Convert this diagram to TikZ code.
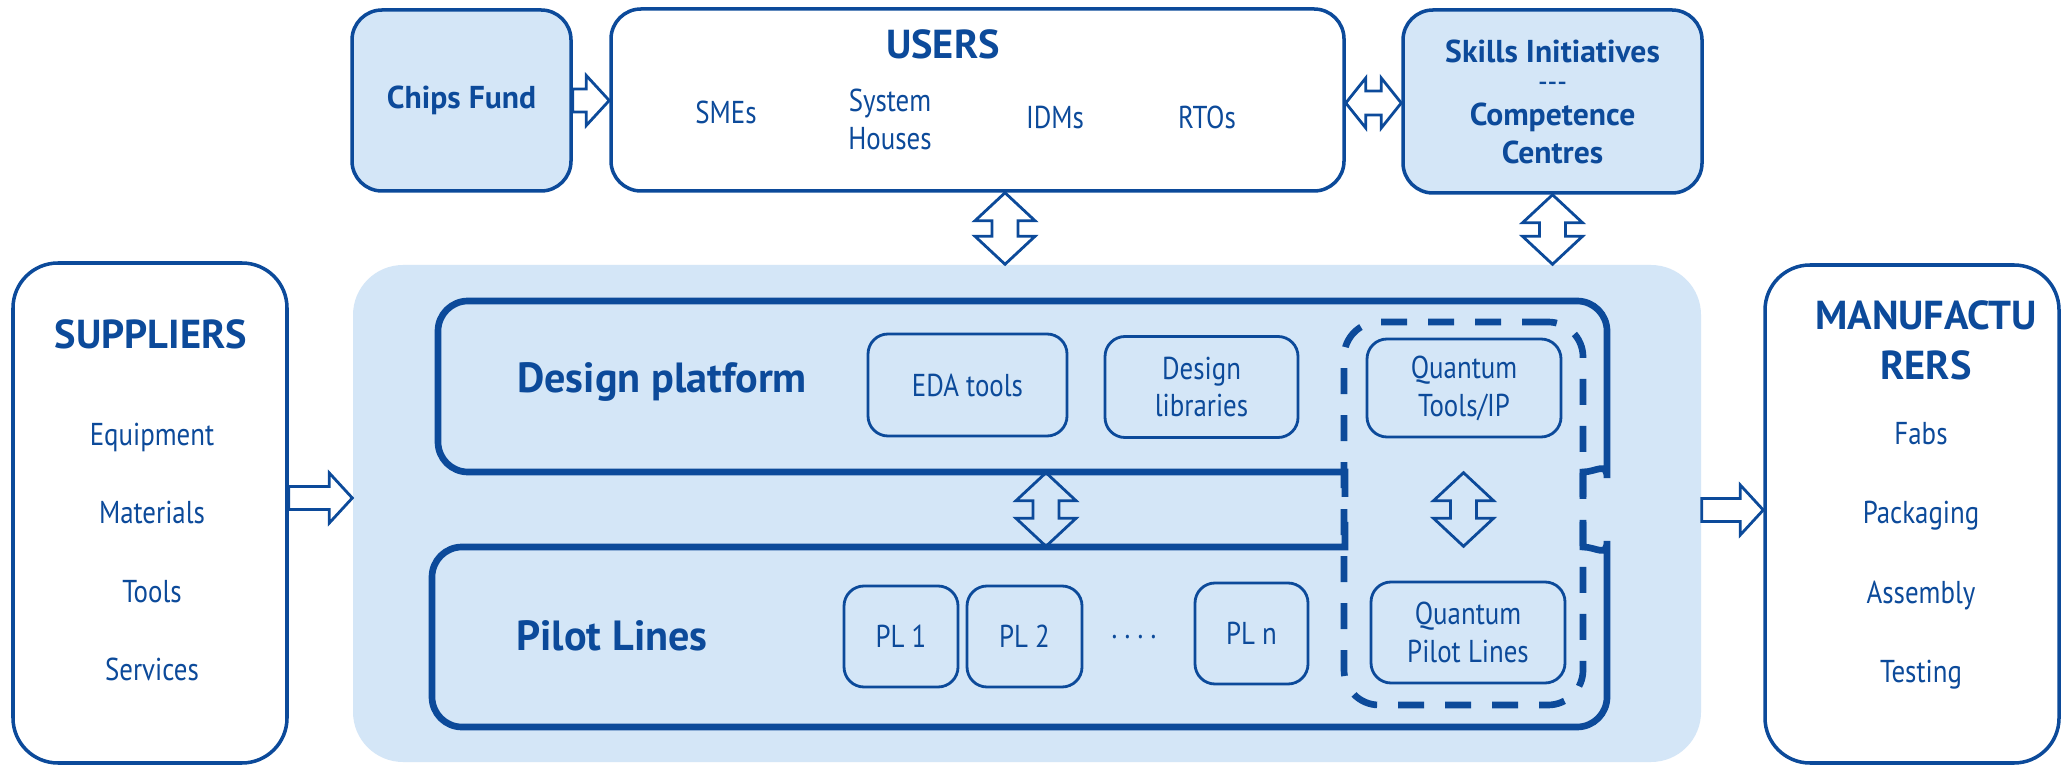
\documentclass[tikz,border=0pt]{standalone}
\usepackage{fontspec}
\setmainfont{PT Sans}[UprightFeatures={FakeStretch=0.85}]
\usetikzlibrary{calc}

\definecolor{eublue}{RGB}{12,74,154}
\definecolor{eulight}{RGB}{212,230,247}

\tikzset{
  box/.style={draw=eublue, line width=1pt, rounded corners=4mm, inner sep=0pt},
  fundbox/.style={box, fill=eulight, rounded corners=3mm, align=center,
    font=\bfseries\fontsize{9}{10.8}\selectfont},
  subbox/.style={draw=eublue, line width=0.8pt, rounded corners=2mm, inner sep=0pt,
    align=center, font=\fontsize{9}{10.8}\selectfont},
  title/.style={align=center, font=\bfseries\fontsize{11.5}{14.2}\selectfont},
  bandname/.style={font=\bfseries\fontsize{12}{14}\selectfont},
  item/.style={align=center, font=\fontsize{9}{10.8}\selectfont},
  frame/.style={draw=eublue, line width=1.9pt},
  qframe/.style={draw=eublue, line width=1.9pt, dash pattern=on 2.6mm off 2.1mm,
    rounded corners=3.5mm, inner sep=0pt},
  blockarrow/.style={draw=eublue, line width=0.8pt}
}

% hollow block arrow, left to right
\newcommand\rarrow[2]{%
  \draw[blockarrow] let \p1=(#1), \p2=(#2) in
    (\x1,\y1+1.15mm) -- (\x2-2.3mm,\y1+1.15mm) -- (\x2-2.3mm,\y1+2.5mm) -- (\x2,\y1)
    -- (\x2-2.3mm,\y1-2.5mm) -- (\x2-2.3mm,\y1-1.15mm) -- (\x1,\y1-1.15mm) -- cycle;}
% hollow double arrow, horizontal
\newcommand\hdarrow[2]{%
  \draw[blockarrow] let \p1=(#1), \p2=(#2) in
    (\x1,\y1) -- (\x1+2mm,\y1+2.5mm) -- (\x1+2mm,\y1+1.2mm) -- (\x2-2mm,\y1+1.2mm)
    -- (\x2-2mm,\y1+2.5mm) -- (\x2,\y1) -- (\x2-2mm,\y1-2.5mm) -- (\x2-2mm,\y1-1.2mm)
    -- (\x1+2mm,\y1-1.2mm) -- (\x1+2mm,\y1-2.5mm) -- cycle;}
% hollow double arrow, vertical (x and top from #1, bottom from #2)
\newcommand\vdarrow[2]{%
  \draw[blockarrow] let \p1=(#1), \p2=(#2) in
    (\x1,\y1) -- (\x1+3mm,\y1-2.8mm) -- (\x1+1.3mm,\y1-2.8mm) -- (\x1+1.3mm,\y2+2.8mm)
    -- (\x1+3mm,\y2+2.8mm) -- (\x1,\y2) -- (\x1-3mm,\y2+2.8mm) -- (\x1-1.3mm,\y2+2.8mm)
    -- (\x1-1.3mm,\y1-2.8mm) -- (\x1-3mm,\y1-2.8mm) -- cycle;}

\begin{document}
\begin{tikzpicture}[x=0.1mm, y=-0.1mm, every node/.append style={text=eublue}]
\fill[white] (0,0) rectangle (2063,765);
\useasboundingbox (0,0) rectangle (2063,765);

% light panel
\node[fill=eulight, rounded corners=5mm, inner sep=0pt, minimum width=134.8mm,
  minimum height=49.7mm] (panel) at (1027,513.5) {};

% top row
\node[fundbox, minimum width=21.9mm, minimum height=18.1mm] (chips) at (461.5,100.5) {Chips Fund};
\node[box, rounded corners=3mm, minimum width=73.3mm, minimum height=18.2mm] (users) at (977.5,100) {};
\node[fundbox, minimum width=29.9mm, minimum height=18.3mm] (skills) at (1552.5,101.5)
  {Skills Initiatives\\[-0.8mm]{\mdseries -{}-{}-}\\[-0.5mm]Competence\\Centres};
\node[title, anchor=base] (usertitle) at (943,59) {USERS};
\foreach \x/\txt/\nm in {726/SMEs/smes, 1055/IDMs/idms, 1207/RTOs/rtos}
  \node[item, anchor=base] (\nm) at (\x,\ifnum\x=726 124\else 129\fi) {\txt};
\node[item] (syshouses) at (890,119) {System\\Houses};

% suppliers and manufacturers
\node[box, rounded corners=4.5mm, minimum width=27.4mm, minimum height=50mm] (sup) at (150,513) {};
\node[title, anchor=base] (suptitle) at (151,349) {SUPPLIERS};
\foreach \txt [count=\i] in {Equipment, Materials, Tools, Services}
  \node[item, anchor=base] (sup\i) at (152,368+78*\i) {\txt};
\node[box, rounded corners=4.5mm, minimum width=29.4mm, minimum height=49.8mm] (manu) at (1912,514) {};
\node[title] (manutitle) at (1926,340) {MANUFACTU\\RERS};
\foreach \txt [count=\i] in {Fabs, Packaging, Assembly, Testing}
  \node[item, anchor=base] (manu\i) at (1921,366+79*\i) {\txt};

% design platform and pilot lines
\node[inner sep=0pt, minimum width=116.9mm, minimum height=17.1mm] (design) at (1022.5,386.5) {};
\node[inner sep=0pt, minimum width=117.5mm, minimum height=18mm] (pilot) at (1019.5,637) {};
\draw[frame] (1345,497) -- (1345,472) -- (1300,472) [rounded corners=3mm] -- (438,472)
  -- (438,301) -- (1607,301) -- (1607,448) [sharp corners]
  arc[start angle=0, end angle=90, radius=24] -- (1583,497);
\draw[frame] (1345,522) -- (1345,547) -- (1300,547) [rounded corners=3mm] -- (432,547)
  -- (432,727) -- (1607,727) -- (1607,571) [sharp corners]
  arc[start angle=0, end angle=-90, radius=24] -- (1583,522);
\node[qframe, minimum width=23.9mm, minimum height=38.3mm] (quantum) at (1463.5,513.5) {};
\node[bandname, anchor=base] (designname) at (662,393) {Design platform};
\node[bandname, anchor=base] (pilotname) at (612,650) {Pilot Lines};

\node[subbox, minimum width=19.9mm, minimum height=10.2mm] (eda) at (967.5,385) {EDA tools};
\node[subbox, minimum width=19.3mm, minimum height=10.1mm] (dlib) at (1201.5,387) {Design\\libraries};
\node[subbox, minimum width=19.4mm, minimum height=9.8mm] (qtools) at (1464,388) {Quantum\\Tools/IP};
\node[subbox, minimum width=11.4mm, minimum height=10.1mm] (pl1) at (901,636.5) {PL 1};
\node[subbox, minimum width=11.5mm, minimum height=10.1mm] (pl2) at (1024.5,636.5) {PL 2};
\node[item, anchor=base] (dots) at (1134,638) {.\ .\ .\ .};
\node[subbox, minimum width=11.3mm, minimum height=10.1mm] (pln) at (1251.5,633.5) {PL n};
\node[subbox, minimum width=19.4mm, minimum height=10.1mm] (qpilot) at (1468,632.5) {Quantum\\Pilot Lines};

% arrows
\rarrow{chips.east}{users.west}
\hdarrow{[yshift=-0.3mm]users.east}{skills.west}
\vdarrow{[xshift=2.75mm]users.south}{panel.north}
\vdarrow{skills.south}{panel.north}
\rarrow{[yshift=1.5mm]sup.east}{panel.west}
\rarrow{[yshift=0.35mm]panel.east}{manu.west}
\vdarrow{[xshift=2.35mm]design.south}{pilot.north}
\vdarrow{quantum.center |- design.south}{pilot.north}
\end{tikzpicture}
\end{document}
